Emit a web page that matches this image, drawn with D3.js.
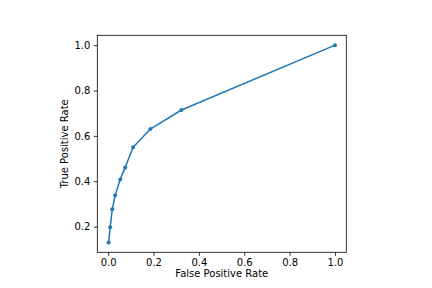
<!DOCTYPE html>
<html>
<head>
<meta charset="utf-8">
<script src="https://cdn.jsdelivr.net/npm/d3@7"></script>
<style>
  body { margin: 0; background: #fff; }
  text { font-family: "DejaVu Sans", sans-serif; font-size: 10px; fill: #000; }
</style>
</head>
<body>
<div id="chart"></div>
<script>
// ROC curve points
const fpr = [0.002, 0.009, 0.018, 0.031, 0.053, 0.075, 0.110, 0.186, 0.323, 1.0]
const tpr = [0.13, 0.197, 0.276, 0.338, 0.408, 0.461, 0.550, 0.630, 0.714, 1.0]
const xTicks = [0.0, 0.2, 0.4, 0.6, 0.8, 1.0]
const yTicks = [0.2, 0.4, 0.6, 0.8, 1.0]

let w = 432, h = 288,
  margin = { left: 97.3, right: 432 - 346.3, top: 35.3, bottom: 288 - 252.3 }

const data = fpr.map((x, i) => ({ x: x, y: tpr[i] }))

let svg = d3.select("#chart")
  .append("svg")
  .attr("width", w)
  .attr("height", h)

// matplotlib-like 5% padding on the data limits
const xMin = d3.min(fpr), xMax = d3.max(fpr)
const yMin = d3.min(tpr), yMax = d3.max(tpr)
const xPad = (xMax - xMin) * 0.05, yPad = (yMax - yMin) * 0.05

let x = d3.scaleLinear()
  .domain([xMin - xPad, xMax + xPad])
  .range([margin.left, w - margin.right])

let y = d3.scaleLinear()
  .domain([yMin - yPad, yMax + yPad])
  .range([h - margin.bottom, margin.top])

const fmt = d3.format('.1f')

let xAxis = svg.append("g")
  .attr("transform", `translate(0,${h - margin.bottom})`)
  .call(d3.axisBottom(x).tickValues(xTicks).tickFormat(fmt).tickSizeInner(3.5).tickSizeOuter(0).tickPadding(3.5))

let yAxis = svg.append("g")
  .attr("transform", `translate(${margin.left},0)`)
  .call(d3.axisLeft(y).tickValues(yTicks).tickFormat(fmt).tickSizeInner(3.5).tickSizeOuter(0).tickPadding(3.5))

svg.selectAll(".domain").remove()
svg.selectAll(".tick line").attr("stroke", "#000").attr("stroke-width", 0.8)
svg.selectAll(".tick text").style("font-family", "DejaVu Sans").style("font-size", "10px")

// axes frame
svg.append("rect")
  .attr("x", margin.left)
  .attr("y", margin.top)
  .attr("width", w - margin.left - margin.right)
  .attr("height", h - margin.top - margin.bottom)
  .attr("fill", "none")
  .attr("stroke", "#000")
  .attr("stroke-width", 0.8)

// curve
let line = d3.line()
  .x(d => x(d.x))
  .y(d => y(d.y))

svg.append("path")
  .datum(data)
  .attr("d", line)
  .attr("fill", "none")
  .attr("stroke", "#1f77b4")
  .attr("stroke-width", 1.5)
  .attr("stroke-linejoin", "round")
  .attr("stroke-linecap", "square")

svg.append("g")
  .selectAll("circle")
  .data(data)
  .enter()
  .append("circle")
  .attr("cx", d => x(d.x))
  .attr("cy", d => y(d.y))
  .attr("r", 2)
  .attr("fill", "#1f77b4")

// labels
svg.append("text")
  .attr("x", (margin.left + w - margin.right) / 2)
  .attr("y", 277)
  .attr("text-anchor", "middle")
  .text("False Positive Rate")

svg.append("text")
  .attr("transform", `translate(68,${(margin.top + h - margin.bottom) / 2}) rotate(-90)`)
  .attr("text-anchor", "middle")
  .text("True Positive Rate")
</script>
</body>
</html>
